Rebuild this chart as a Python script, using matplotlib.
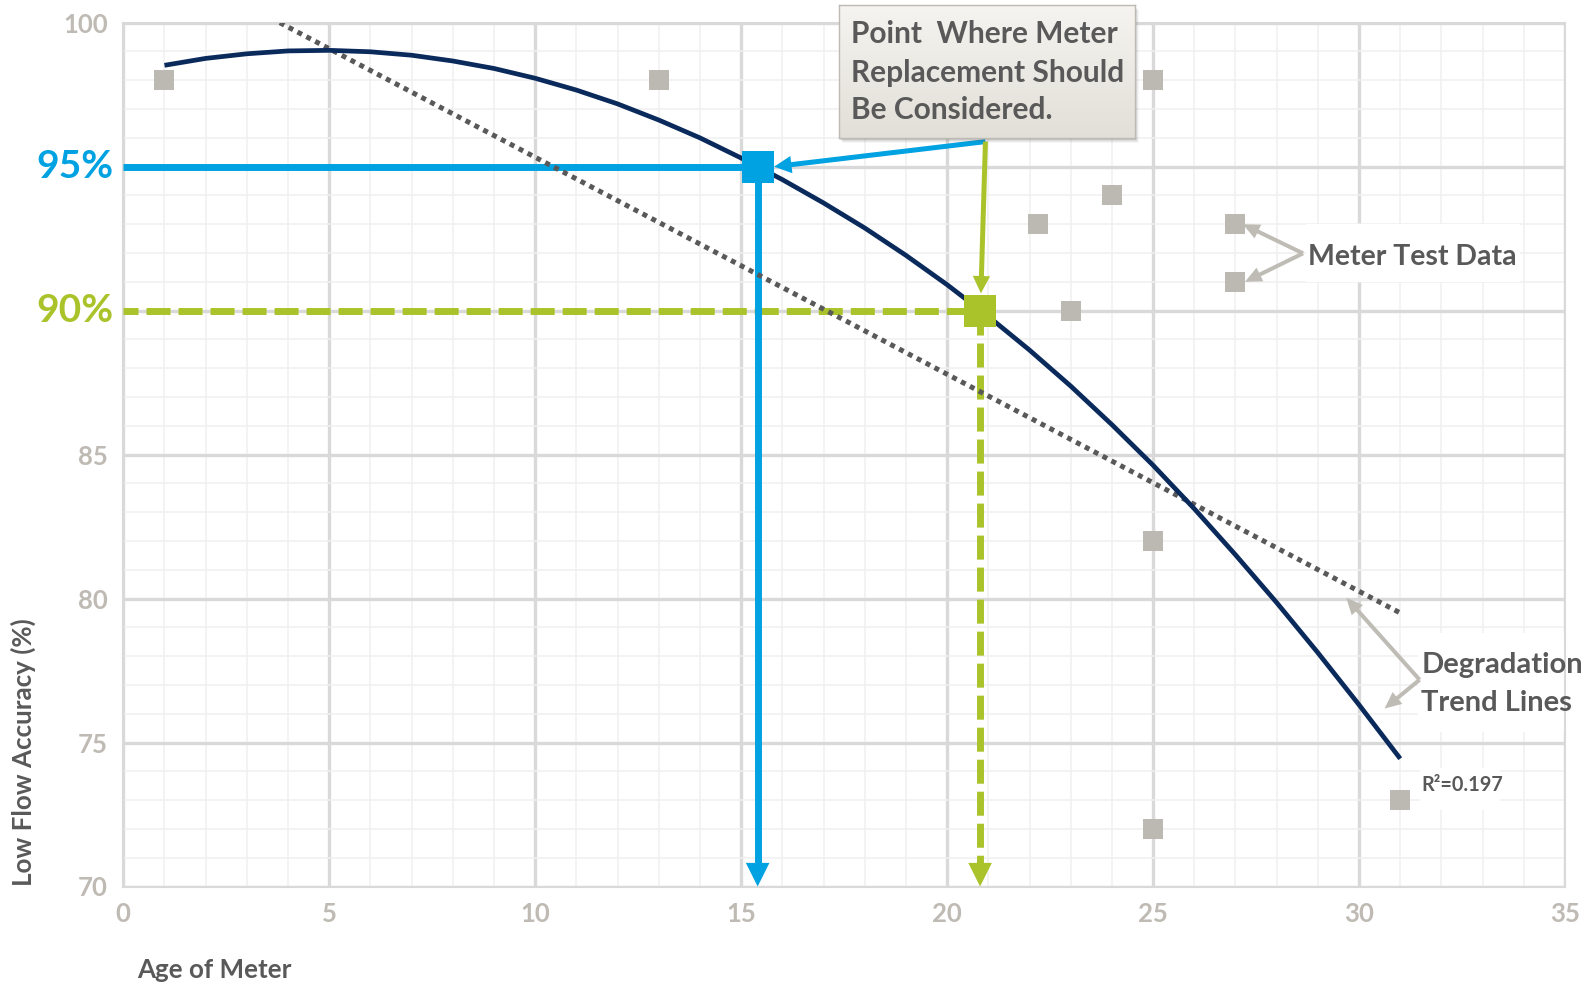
import numpy as np
import matplotlib
matplotlib.use("Agg")
import matplotlib.pyplot as plt
from matplotlib.patches import FancyArrowPatch, Rectangle
from matplotlib.colors import LinearSegmentedColormap
from matplotlib.ticker import MultipleLocator

# ---- data -------------------------------------------------------------
meter_age = [1, 13, 25, 22.2, 24, 27, 27, 23, 25, 25, 31]
meter_accuracy = [98, 98, 98, 93, 94, 93, 91, 90, 82, 72, 73]

trend_age = list(range(1, 32))
trend_accuracy = [98.52, 98.76, 98.92, 99.02, 99.04, 98.99, 98.87, 98.67, 98.41, 98.07,
                  97.66, 97.18, 96.62, 96.00, 95.30, 94.55, 93.74, 92.87, 91.92, 90.90,
                  89.80, 88.63, 87.38, 86.04, 84.63, 83.12, 81.52, 79.86, 78.12, 76.31,
                  74.44]

linear_age = [3.8, 31.0]
linear_accuracy = [100.0, 79.5]

replace_age = [15.4, 20.8]
replace_level = [95, 90]
replace_labels = ["95%", "90%"]

y_ticks = [70, 75, 80, 85, 90, 95, 100]
y_tick_labels = ["70", "75", "80", "85", "", "", "100"]
x_ticks = [0, 5, 10, 15, 20, 25, 30, 35]

r_squared = 0.197

# ---- style ------------------------------------------------------------
FONT = "Lato"
BLUE = "#00A2E1"
GREEN = "#AAC32B"
NAVY = "#0A2A5C"
DOTS = "#595959"
SQUARE = "#BCB9B2"
TICK = "#BFBBB4"
TEXT = "#595959"
ARROW_GRAY = "#BFBCB5"

plt.rcParams["font.family"] = [FONT, "DejaVu Sans"]
plt.rcParams["font.weight"] = "bold"

W, H = 1585, 984
fig = plt.figure(figsize=(W / 100, H / 100), dpi=100)
fig.patch.set_facecolor("white")

ax_left, ax_right, ax_top, ax_bottom = 123.3, 1565.0, 22.7, 886.5
ax = fig.add_axes([ax_left / W, 1 - ax_bottom / H,
                   (ax_right - ax_left) / W, (ax_bottom - ax_top) / H])
ax.set_xlim(0, 35)
ax.set_ylim(70, 100)

ax.xaxis.set_major_locator(MultipleLocator(5))
ax.yaxis.set_major_locator(MultipleLocator(5))
ax.xaxis.set_minor_locator(MultipleLocator(1))
ax.yaxis.set_minor_locator(MultipleLocator(1))
ax.grid(which="major", color="#D9D9D9", lw=2.4, zorder=0)
ax.grid(which="minor", color="#F0F0F0", lw=1.1, zorder=0)
ax.set_axisbelow(True)
for s in ax.spines.values():
    s.set_color("#D9D9D9")
    s.set_linewidth(1.5)

ax.set_xticks(x_ticks)
ax.set_xticklabels([str(t) for t in x_ticks])
ax.set_yticks(y_ticks)
ax.set_yticklabels(y_tick_labels)
ax.tick_params(which="both", length=0)
ax.tick_params(axis="y", pad=11, labelsize=18.5, labelcolor=TICK)
ax.tick_params(axis="x", pad=11, labelsize=18.5, labelcolor=TICK)
for lab in ax.get_xticklabels() + ax.get_yticklabels():
    lab.set_fontweight("bold")


def arrow(start, tip, color, lw, head_len, head_w, ls="-", z=6):
    """Shaft drawn as a line, head as a filled wedge; sizes in points."""
    t = ax.transData
    p0 = np.array(t.transform(start))
    p1 = np.array(t.transform(tip))
    u = (p1 - p0) / np.hypot(*(p1 - p0))
    base_px = p1 - u * head_len * fig.dpi / 72 * 0.92
    base = t.inverted().transform(base_px)
    ax.plot([start[0], base[0]], [start[1], base[1]], color=color, lw=lw,
            linestyle=ls, solid_capstyle="butt", dash_capstyle="butt",
            zorder=z, clip_on=False)
    head = FancyArrowPatch(tuple(base), tuple(tip),
                           arrowstyle=f"-|>,head_length={head_len},head_width={head_w / 2}",
                           mutation_scale=1, color=color, lw=0,
                           shrinkA=0, shrinkB=0, zorder=z, clip_on=False)
    ax.add_patch(head)


dash_style = (1.3, (3.46, 1.15))

# threshold guides: horizontal to the curve, then down to the age axis
ax.plot([0, replace_age[0]], [replace_level[0]] * 2, color=BLUE, lw=5,
        solid_capstyle="butt", zorder=3)
ax.plot([0, replace_age[1]], [replace_level[1]] * 2, color=GREEN, lw=5,
        linestyle=dash_style, dash_capstyle="butt", zorder=3)
arrow((replace_age[0], replace_level[0]), (replace_age[0], 70), BLUE, 5, 17, 17, z=3)
arrow((replace_age[1], replace_level[1]), (replace_age[1], 70), GREEN, 5, 17, 17,
      ls=(0, (3.46, 1.15)), z=3)

# trend lines
ax.plot(linear_age, linear_accuracy, color=DOTS, lw=3.6, linestyle=(0, (1, 1)),
        dash_capstyle="butt", zorder=4)
ax.plot(trend_age, trend_accuracy, color=NAVY, lw=3.4, solid_capstyle="butt",
        solid_joinstyle="round", zorder=5)

# measured meters
ax.plot(meter_age, meter_accuracy, linestyle="none", marker="s", markersize=14.4,
        color=SQUARE, markeredgewidth=0, zorder=6)

# replacement points
ax.plot(replace_age[0], replace_level[0], marker="s", markersize=23, color=BLUE,
        markeredgewidth=0, zorder=7)
ax.plot(replace_age[1], replace_level[1], marker="s", markersize=23, color=GREEN,
        markeredgewidth=0, zorder=7)

# big level labels in place of the 90 / 95 tick labels
for lvl, lab, col in zip(replace_level, replace_labels, [BLUE, GREEN]):
    ax.text(-0.25, lvl, lab, color=col, fontsize=28, fontweight="bold",
            ha="right", va="center", clip_on=False)

# callout arrows from the note box
arrow((20.93, 95.87), (15.8, 95.0), BLUE, 3.6, 12.5, 12.5, z=8)
arrow((20.93, 95.87), (20.82, 90.6), GREEN, 3.6, 12.5, 12.5, z=8)

# "Meter Test Data" note
ax.add_patch(Rectangle((28.71, 91.0), 5.19, 2.01, facecolor="white", edgecolor="none",
                       zorder=2))
ax.text(28.75, 91.59, "Meter Test Data", color=TEXT, fontsize=20.5, fontweight="bold",
        ha="left", va="baseline", zorder=9)
arrow((28.64, 91.99), (27.18, 93.0), ARROW_GRAY, 2.9, 12, 11, z=8)
arrow((28.64, 91.99), (27.23, 91.0), ARROW_GRAY, 2.9, 12, 11, z=8)

# "Degradation Trend Lines" note
ax.add_patch(Rectangle((31.42, 75.37), 4.2, 3.44, facecolor="white", edgecolor="none",
                       zorder=2, clip_on=False))
ax.text(31.51, 77.41, "Degradation", color=TEXT, fontsize=21, fontweight="bold",
        ha="left", va="baseline", zorder=9, clip_on=False)
ax.text(31.51, 76.11, "Trend Lines", color=TEXT, fontsize=21, fontweight="bold",
        ha="left", va="baseline", zorder=9, clip_on=False)
arrow((31.47, 77.18), (29.69, 80.03), ARROW_GRAY, 2.9, 12, 11, z=8)
arrow((31.47, 77.18), (30.62, 76.18), ARROW_GRAY, 2.9, 12, 11, z=8)

# R-squared label
ax.add_patch(Rectangle((31.47, 72.66), 1.95, 1.46, facecolor="white", edgecolor="none",
                       zorder=2))
ax.text(31.51, 73.30, f"R²={r_squared:.3f}", color=TEXT, fontsize=14.3, fontweight="bold",
        ha="left", va="baseline", zorder=9)

# axis titles
fig.text(136.7 / W, 1 - 978.3 / H, "Age of Meter", color=TEXT, fontsize=18.7,
         fontweight="bold", ha="left", va="baseline")
fig.text(23 / W, 1 - 886 / H, "Low Flow Accuracy (%)", color=TEXT, fontsize=18.7,
         fontweight="bold", rotation=90, ha="center", va="bottom")

# note box with soft shadow and light gradient
bx0, bx1, by0, by1 = 839.3, 1135.0, 4.7, 138.3
for i, a in enumerate([0.05, 0.07, 0.10, 0.14]):
    off = 5 - i
    fig.patches.append(Rectangle(((bx0 + off - 1) / W, 1 - (by1 + off) / H),
                                 (bx1 - bx0) / W, (by1 - by0) / H,
                                 transform=fig.transFigure, facecolor="#555555",
                                 edgecolor="none", alpha=a, zorder=4))
box = fig.add_axes([bx0 / W, 1 - by1 / H, (bx1 - bx0) / W, (by1 - by0) / H])
box.set_zorder(10)
grad_cmap = LinearSegmentedColormap.from_list("note", ["#E2DFD8", "#F5F4F0"])
box.imshow(np.linspace(0, 1, 256).reshape(-1, 1), cmap=grad_cmap, aspect="auto",
           extent=[0, 1, 0, 1], origin="lower")
box.set_xticks([])
box.set_yticks([])
for s in box.spines.values():
    s.set_color("#BDBAB3")
    s.set_linewidth(1.0)
note_lines = ["Point  Where Meter", "Replacement Should", "Be Considered."]
for line, base_y in zip(note_lines, [43.3, 81.7, 119.3]):
    box.text((850.7 - bx0) / (bx1 - bx0), (by1 - base_y) / (by1 - by0), line,
             transform=box.transAxes, color=TEXT, fontsize=21.5, fontweight="bold",
             ha="left", va="baseline")

fig.savefig("out.png", dpi=100, facecolor="white")
